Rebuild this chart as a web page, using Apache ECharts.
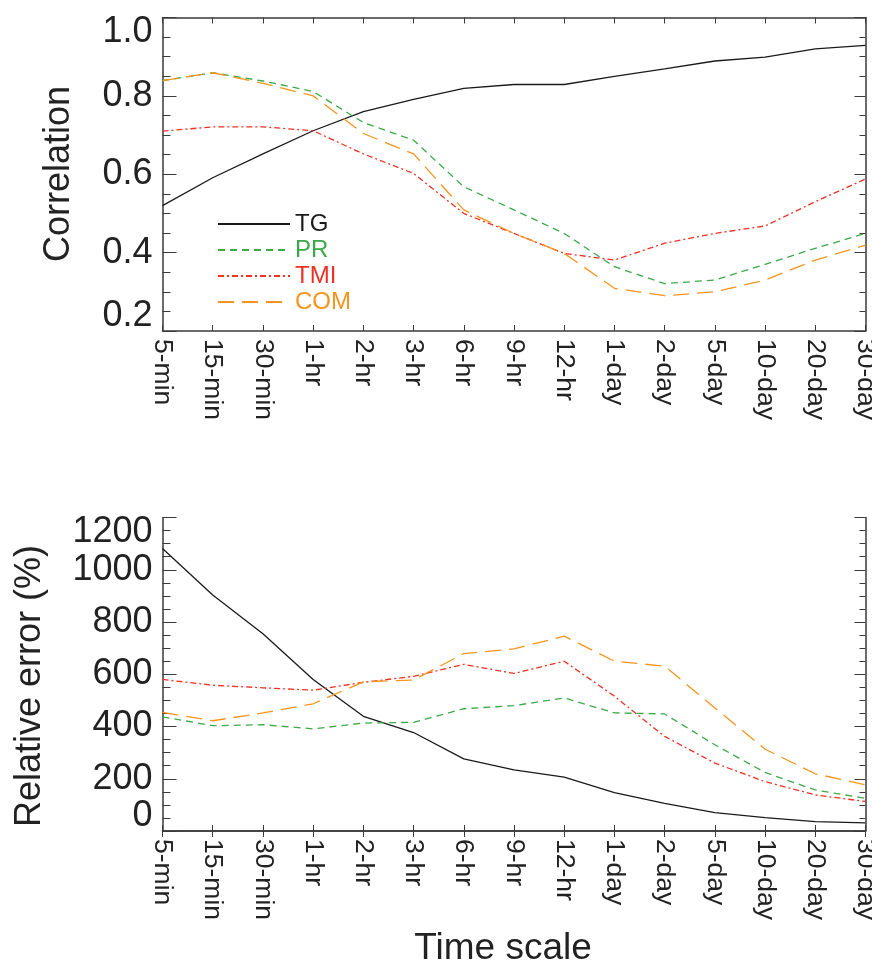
<!DOCTYPE html>
<html style="height: 100%">
<head>
  <meta charset="utf-8">
  <title>correlation-error</title>
  <script src="https://cdn.jsdelivr.net/npm/echarts@6/dist/echarts.min.js"></script>
</head>
<body style="height: 100%; margin: 0; background: #fff">
<div id="main" style="width: 872px; height: 963px"></div>

<script type="text/javascript">
  // time scales on the x axis
  var categories = ['5-min', '15-min', '30-min', '1-hr', '2-hr', '3-hr', '6-hr', '9-hr', '12-hr',
    '1-day', '2-day', '5-day', '10-day', '20-day', '30-day'];

  // top panel: correlation
  var corrTG  = [0.52, 0.591, 0.652, 0.711, 0.76, 0.791, 0.819, 0.829, 0.829, 0.85, 0.869, 0.889, 0.899, 0.92, 0.929];
  var corrPR  = [0.839, 0.859, 0.838, 0.811, 0.732, 0.687, 0.568, 0.509, 0.449, 0.364, 0.321, 0.33, 0.37, 0.411, 0.449];
  var corrTMI = [0.71, 0.721, 0.721, 0.711, 0.652, 0.602, 0.5, 0.449, 0.398, 0.381, 0.424, 0.449, 0.468, 0.53, 0.588];
  var corrCOM = [0.839, 0.859, 0.832, 0.8, 0.704, 0.652, 0.509, 0.449, 0.398, 0.309, 0.29, 0.3, 0.33, 0.381, 0.419];

  // bottom panel: relative error (%)
  var errTG  = [1081, 903, 755, 580, 439, 377, 276, 234, 206, 147, 106, 70, 51, 36, 31];
  var errPR  = [437, 403, 407, 391, 413, 416, 468, 480, 509, 452, 448, 330, 224, 157, 125];
  var errTMI = [580, 558, 548, 539, 569, 592, 638, 603, 650, 516, 362, 260, 189, 138, 113];
  var errCOM = [454, 422, 452, 487, 571, 578, 679, 697, 746, 650, 631, 471, 313, 219, 177];

  var FONT = 'Liberation Sans, Arial, sans-serif';
  var colors = {TG: '#1a1a1a', PR: '#3aaa48', TMI: '#ee3124', COM: '#f7941d'};
  var dashes = {TG: 'solid', PR: [7, 5], TMI: [6, 3, 2, 3], COM: [16, 8]};
  var axisColor = '#3a3a3a';

  function xAxes(gridIndex) {
    var base = {
      type: 'category', gridIndex: gridIndex, data: categories, boundaryGap: false,
      axisLine: {show: true, lineStyle: {color: axisColor, width: 1.5}},
      axisTick: {show: true, inside: true, length: 6, lineStyle: {color: axisColor}},
      splitLine: {show: false}
    };
    var bottom = Object.assign({}, base, {
      position: 'bottom',
      axisLabel: {rotate: -90, margin: 8, fontSize: 26.5, color: '#222', fontFamily: FONT, interval: 0}
    });
    var top = Object.assign({}, base, {position: 'top', axisLabel: {show: false}});
    return [bottom, top];
  }

  function yAxes(gridIndex, min, max, interval, fmt) {
    var base = {
      type: 'value', gridIndex: gridIndex, min: min, max: max, interval: interval,
      axisLine: {show: true, lineStyle: {color: axisColor, width: 1.5}},
      axisTick: {show: true, inside: true, length: 14, lineStyle: {color: axisColor}},
      minorTick: {show: true, splitNumber: 4, length: 8, lineStyle: {color: axisColor}},
      splitLine: {show: false}
    };
    var left = Object.assign({}, base, {
      position: 'left',
      axisLabel: {fontSize: 36, lineHeight: 30, color: '#222', fontFamily: FONT, margin: 10, formatter: fmt,
        showMinLabel: true, showMaxLabel: true, hideOverlap: false,
        verticalAlignMinLabel: 'bottom', verticalAlignMaxLabel: 'top'}
    });
    var right = Object.assign({}, base, {
      position: 'right', axisLabel: {show: false},
      axisTick: {show: true, inside: true, length: 11, lineStyle: {color: axisColor}},
      minorTick: {show: true, splitNumber: 4, length: 6, lineStyle: {color: axisColor}}
    });
    return [left, right];
  }

  function lineSeries(name, data, xi, yi) {
    return {
      name: name, type: 'line', data: data, xAxisIndex: xi, yAxisIndex: yi,
      symbol: 'none', showSymbol: false, animation: false,
      lineStyle: {color: colors[name], width: 1.3, type: dashes[name]},
      itemStyle: {color: colors[name]}
    };
  }

  var chart = echarts.init(document.getElementById('main'));

  chart.setOption({
    backgroundColor: '#fff',
    animation: false,
    grid: [
      {left: 162.5, width: 703, top: 17.5, height: 313.5, outerBoundsMode: 'none', containLabel: false},
      {left: 162.5, width: 703, top: 517.5, height: 313.5, outerBoundsMode: 'none', containLabel: false}
    ],
    legend: {
      orient: 'vertical', left: 212, top: 207,
      itemWidth: 72, itemHeight: 14, itemGap: 2,
      itemStyle: {opacity: 0},
      textStyle: {fontSize: 24, fontFamily: FONT, lineHeight: 24},
      data: ['TG', 'PR', 'TMI', 'COM'].map(function (n) {
        return {name: n, textStyle: {color: colors[n]}};
      }),
      selectedMode: false
    },
    xAxis: xAxes(0).concat(xAxes(1)),
    yAxis: yAxes(0, 0.2, 1.0, 0.2, function (v) { return v.toFixed(1); })
      .concat(yAxes(1, 0, 1200, 200, function (v) { return String(v); })),
    graphic: [{
      type: 'text',
      style: {x: 503, y: 949, text: 'Time scale', fontSize: 37, fontFamily: FONT, fill: '#222',
        align: 'center', verticalAlign: 'middle'}
    }, {
      type: 'text', x: 59, y: 174, rotation: Math.PI / 2,
      style: {x: 0, y: 0, text: 'Correlation', fontSize: 36, fontFamily: FONT, fill: '#222',
        align: 'center', verticalAlign: 'middle'}
    }, {
      type: 'text', x: 30, y: 686, rotation: Math.PI / 2,
      style: {x: 0, y: 0, text: 'Relative error (%)', fontSize: 36, fontFamily: FONT, fill: '#222',
        align: 'center', verticalAlign: 'middle'}
    }],
    series: [
      lineSeries('TG', corrTG, 0, 0),
      lineSeries('PR', corrPR, 0, 0),
      lineSeries('TMI', corrTMI, 0, 0),
      lineSeries('COM', corrCOM, 0, 0),
      lineSeries('TG', errTG, 2, 2),
      lineSeries('PR', errPR, 2, 2),
      lineSeries('TMI', errTMI, 2, 2),
      lineSeries('COM', errCOM, 2, 2)
    ]
  });

  window.addEventListener('resize', chart.resize);
</script>
</body>
</html>
